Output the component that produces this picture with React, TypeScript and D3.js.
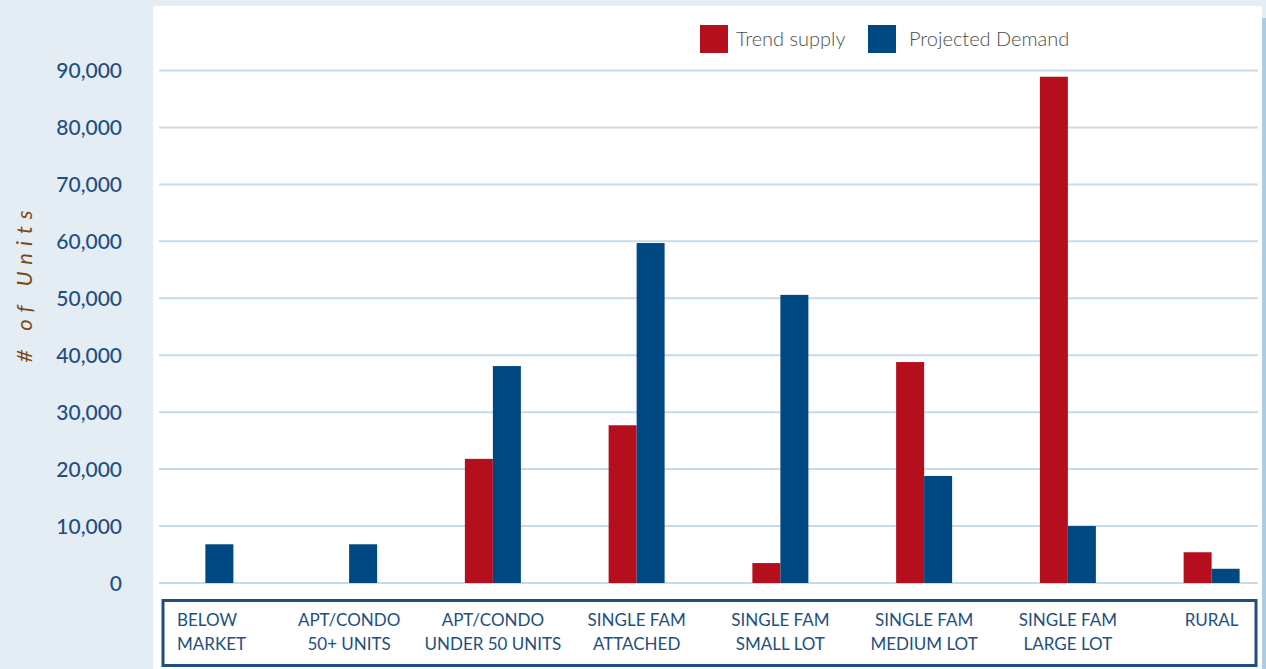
import React from "react";
import * as d3 from "d3";

const categories: string[][] = [
  ["BELOW", "MARKET"],
  ["APT/CONDO", "50+ UNITS"],
  ["APT/CONDO", "UNDER 50 UNITS"],
  ["SINGLE FAM", "ATTACHED"],
  ["SINGLE FAM", "SMALL LOT"],
  ["SINGLE FAM", "MEDIUM LOT"],
  ["SINGLE FAM", "LARGE LOT"],
  ["RURAL"],
];
const trendSupply = [0, 0, 21800, 27700, 3500, 38800, 88900, 5400];
const projectedDemand = [6800, 6800, 38100, 59700, 50600, 18800, 10000, 2500];
const yTicks = [0, 10000, 20000, 30000, 40000, 50000, 60000, 70000, 80000, 90000];
const seriesNames = ["Trend supply", "Projected Demand"];

const W = 1266;
const H = 669;
const RED = "#b50f1e";
const BLUE = "#004882";
const TEXT_BLUE = "#1d4f80";
const FONT = "Lato, 'Open Sans', sans-serif";

export default function App() {
  const y = d3.scaleLinear().domain([0, 90000]).range([583, 70.5]);
  const x = d3
    .scaleBand<number>()
    .domain(d3.range(categories.length))
    .range([133.5, 1283.5])
    .paddingInner(0)
    .paddingOuter(0);
  const barW = 28;
  const center = (i: number) => (x(i) as number) + x.bandwidth() / 2;
  const fmt = d3.format(",");

  return (
    <svg
      width={W}
      height={H}
      style={{ position: "absolute", left: 0, top: 0, display: "block" }}
    >
      <rect x={0} y={0} width={W} height={H} fill="#e4ecf4" />
      <rect x={153} y={6} width={1109} height={H - 6} fill="#ffffff" />
      <rect x={1262} y={18} width={4} height={H - 18} fill="#aecde3" />

      {/* gridlines */}
      {yTicks.map((t) => (
        <line
          key={"g" + t}
          x1={159}
          x2={1258}
          y1={y(t)}
          y2={y(t)}
          stroke="#c5dbea"
          strokeWidth={2}
        />
      ))}

      {/* y tick labels */}
      {yTicks.map((t) => (
        <text
          key={"t" + t}
          x={122}
          y={y(t)}
          dy="0.36em"
          textAnchor="end"
          fontFamily={FONT}
          fontSize={21}
          fontWeight={500}
          fill={TEXT_BLUE}
        >
          {fmt(t)}
        </text>
      ))}

      {/* y axis title */}
      <text
        transform="translate(32,283) rotate(-90)"
        textAnchor="middle"
        fontFamily={FONT}
        fontSize={22}
        fontStyle="italic"
        fontWeight={400}
        letterSpacing={7}
        fill="#7a4a14"
      >
        # of Units
      </text>

      {/* bars */}
      {trendSupply.map((v, i) =>
        v > 0 ? (
          <rect
            key={"r" + i}
            x={center(i) - barW}
            y={y(v)}
            width={barW}
            height={y(0) - y(v)}
            fill={RED}
          />
        ) : null
      )}
      {projectedDemand.map((v, i) =>
        v > 0 ? (
          <rect
            key={"b" + i}
            x={center(i)}
            y={y(v)}
            width={barW}
            height={y(0) - y(v)}
            fill={BLUE}
          />
        ) : null
      )}

      {/* category box */}
      <rect
        x={163}
        y={600.5}
        width={1093}
        height={65}
        fill="none"
        stroke="#1e4f7f"
        strokeWidth={3}
      />
      {categories.map((lines, i) => (
        <text
          key={"c" + i}
          x={i === 0 ? 177 : center(i)}
          textAnchor={i === 0 ? "start" : "middle"}
          fontFamily={FONT}
          fontSize={17}
          fill={TEXT_BLUE}
        >
          {lines.map((l, j) => (
            <tspan key={j} x={i === 0 ? 177 : center(i)} y={626 + j * 24}>
              {l}
            </tspan>
          ))}
        </text>
      ))}

      {/* legend */}
      <rect x={700} y={25} width={28} height={28} fill={RED} />
      <text
        x={736}
        y={39}
        dy="0.36em"
        fontFamily={FONT}
        fontSize={20}
        fontWeight={300}
        fill="#4d4d4d"
      >
        {seriesNames[0]}
      </text>
      <rect x={868} y={25} width={28} height={28} fill={BLUE} />
      <text
        x={909}
        y={39}
        dy="0.36em"
        fontFamily={FONT}
        fontSize={20}
        fontWeight={300}
        fill="#4d4d4d"
      >
        {seriesNames[1]}
      </text>
    </svg>
  );
}
